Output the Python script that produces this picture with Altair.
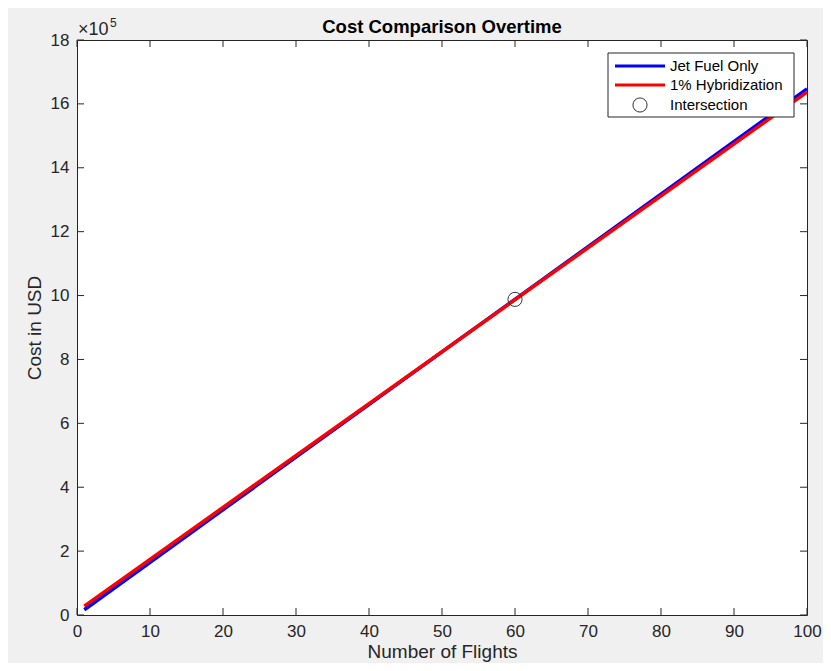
import altair as alt
import pandas as pd

# --- data ---
flights = [1, 100]
jet_fuel = [16500, 1647000]
hybrid = [28000, 1637000]
inter_x = [60]
inter_y = [988000]
x_ticks = [0, 10, 20, 30, 40, 50, 60, 70, 80, 90, 100]
y_ticks = [0, 200000, 400000, 600000, 800000, 1000000, 1200000, 1400000, 1600000, 1800000]
series_names = ["Jet Fuel Only", "1% Hybridization", "Intersection"]
title_text = "Cost Comparison Overtime"

W, H = 730, 575
FONT = "Liberation Sans"
AX = "#262626"

blue_df = pd.DataFrame({"n": flights, "cost": jet_fuel})
red_df = pd.DataFrame({"n": flights, "cost": hybrid})
pt_df = pd.DataFrame({"n": inter_x, "cost": inter_y})
xt_df = pd.DataFrame({"v": x_ticks})
yt_df = pd.DataFrame({"v": y_ticks})
one = pd.DataFrame({"k": [0]})

xscale = alt.Scale(domain=[0, 100], nice=False, zero=False)
yscale = alt.Scale(domain=[0, 1800000], nice=False)

x_axis = alt.Axis(
    values=x_ticks, ticks=False, domain=False, grid=False, labelFlush=False, labelOverlap=False,
    labelFont=FONT, labelFontSize=17, labelColor=AX, labelPadding=8,
    title="Number of Flights", titleFont=FONT, titleFontSize=19,
    titleFontWeight="normal", titleColor=AX, titlePadding=3,
)
y_axis = alt.Axis(
    values=y_ticks, ticks=False, domain=False, grid=False, labelFlush=False, labelOverlap=False,
    labelExpr="format(datum.value / 100000, 'd')",
    labelFont=FONT, labelFontSize=17, labelColor=AX, labelPadding=8,
    title="Cost in USD", titleFont=FONT, titleFontSize=19,
    titleFontWeight="normal", titleColor=AX, titlePadding=6,
)

blue = alt.Chart(blue_df).mark_line(strokeWidth=3.5, color="#0000ff").encode(
    x=alt.X("n:Q", scale=xscale, axis=x_axis),
    y=alt.Y("cost:Q", scale=yscale, axis=y_axis),
)
red = alt.Chart(red_df).mark_line(strokeWidth=3.5, color="#ff0000").encode(
    x="n:Q", y="cost:Q",
)
point = alt.Chart(pt_df).mark_point(shape="circle", filled=False, size=200, strokeWidth=1, color="#333333",
                                    opacity=1).encode(
    x="n:Q", y="cost:Q",
)

tick_style = dict(color=AX, strokeWidth=1)
xb = alt.Chart(xt_df).mark_rule(**tick_style).encode(x="v:Q", y=alt.value(H), y2=alt.value(H - 7))
xtp = alt.Chart(xt_df).mark_rule(**tick_style).encode(x="v:Q", y=alt.value(0), y2=alt.value(7))
yl = alt.Chart(yt_df).mark_rule(**tick_style).encode(y="v:Q", x=alt.value(0), x2=alt.value(7))
yr = alt.Chart(yt_df).mark_rule(**tick_style).encode(y="v:Q", x=alt.value(W), x2=alt.value(W - 7))

exp_df = pd.DataFrame({"n": [0], "cost": [1800000]})
exp_main = alt.Chart(exp_df).mark_text(
    text="×10", font=FONT, fontSize=18, color=AX, align="left", baseline="alphabetic", dx=1, dy=-5
).encode(x="n:Q", y="cost:Q")
exp_sup = alt.Chart(exp_df).mark_text(
    text="5", font=FONT, fontSize=12, color=AX, align="left", baseline="alphabetic", dx=33, dy=-13
).encode(x="n:Q", y="cost:Q")

ttl_df = pd.DataFrame({"n": [50], "cost": [1800000]})
title_mark = alt.Chart(ttl_df).mark_text(
    text=title_text, font=FONT, fontSize=18.5, fontWeight="bold", color="black",
    align="center", baseline="alphabetic", dy=-7
).encode(x="n:Q", y="cost:Q")

# --- legend box (drawn on top of the lines) ---
leg_box = alt.Chart(one).mark_rect(fill="white", stroke=AX, strokeWidth=1).encode(
    x=alt.value(531), x2=alt.value(717), y=alt.value(13), y2=alt.value(77)
)
leg_blue = alt.Chart(one).mark_rule(color="#0000ff", strokeWidth=3).encode(
    x=alt.value(538), x2=alt.value(588), y=alt.value(26)
)
leg_red = alt.Chart(one).mark_rule(color="#ff0000", strokeWidth=3).encode(
    x=alt.value(538), x2=alt.value(588), y=alt.value(45)
)
leg_circ = alt.Chart(one).mark_point(shape="circle", filled=False, size=200, strokeWidth=1,
                                     color="#333333", opacity=1).encode(
    x=alt.value(563), y=alt.value(65)
)
leg_labels = []
for name, yy in zip(series_names, [26, 45, 65]):
    leg_labels.append(
        alt.Chart(one).mark_text(text=name, font=FONT, fontSize=15, color="black",
                                 align="left", baseline="middle").encode(
            x=alt.value(593), y=alt.value(yy)
        )
    )

chart = alt.layer(
    xb, xtp, yl, yr, blue, red, point, exp_main, exp_sup, title_mark,
    leg_box, leg_blue, leg_red, leg_circ, *leg_labels
).properties(
    width=W, height=H,
    background="#f0f0f0",
    autosize=alt.AutoSizeParams(type="none"),
    padding={"left": 69, "top": 32, "right": 16, "bottom": 48},
).configure_view(fill="white", stroke=AX, strokeWidth=1)

chart.save("out.html", embed_options={"renderer": "svg", "actions": False})
